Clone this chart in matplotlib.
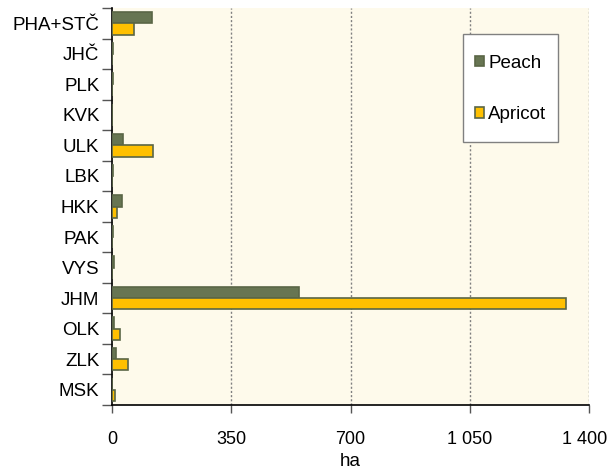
import numpy as np
import matplotlib.pyplot as plt
import matplotlib.transforms as mtransforms
from matplotlib.patches import Rectangle
from matplotlib.ticker import FuncFormatter, FixedLocator

plt.rcParams['font.family'] = ['Liberation Sans', 'DejaVu Sans']

regions = ['PHA+STČ', 'JHČ', 'PLK', 'KVK', 'ULK', 'LBK', 'HKK', 'PAK',
           'VYS', 'JHM', 'OLK', 'ZLK', 'MSK']
peach = [117, 2, 3, 0, 32, 2, 29, 3, 6, 549, 6, 11, 1]
apricot = [65, 1, 1, 0, 120, 0, 15, 1, 0, 1333, 23, 47, 9]
x_ticks = [0, 350, 700, 1050, 1400]

peach_col = '#677552'
apricot_col = '#FFC000'
edge_col = '#5A6646'
fs = 13.5

W, H = 610, 472
fig = plt.figure(figsize=(W / 100, H / 100), dpi=100)
ax = fig.add_axes([112 / W, 1 - 405 / H, 477 / W, 397 / H])
ax.set_facecolor('#FEFAEB')

y = np.arange(len(regions))
h = 0.37
ax.barh(y - h / 2, peach, height=h, color=peach_col, edgecolor=edge_col,
        linewidth=1.2, label='Peach', zorder=3)
ax.barh(y + h / 2, apricot, height=h, color=apricot_col, edgecolor=edge_col,
        linewidth=1.2, label='Apricot', zorder=3)

ax.set_xlim(0, 1400)
ax.set_ylim(len(regions) - 0.5, -0.5)
ax.xaxis.set_major_locator(FixedLocator(x_ticks))
ax.xaxis.set_major_formatter(FuncFormatter(lambda v, p: f'{int(v):,}'.replace(',', ' ')))
for xv in x_ticks[1:]:
    ax.axvline(xv, color='#808080', linestyle=(0, (1.5, 1.5)), linewidth=1, zorder=1)

ax.set_yticks(y)
ax.set_yticklabels(regions)
ax.set_yticks(np.arange(len(regions) + 1) - 0.5, minor=True)
ax.tick_params(axis='y', which='major', length=0, pad=9, labelsize=fs)
ax.tick_params(axis='y', which='minor', length=7, width=1, color='#555555')
ax.tick_params(axis='x', which='major', length=6, width=1, color='#555555',
               labelsize=13, pad=13)
ax.set_xlabel('ha', fontsize=fs, labelpad=3)

# nudge the last x label so it stays inside the figure
last = ax.get_xticklabels()[-1]
last.set_transform(last.get_transform() +
                   mtransforms.ScaledTranslation(-4 / 100, 0, fig.dpi_scale_trans))

for s in ['top', 'right']:
    ax.spines[s].set_visible(False)
ax.spines['left'].set_linewidth(1.2)
ax.spines['bottom'].set_linewidth(1.2)

# legend box
box = Rectangle((463 / W, 1 - 142 / H), 95 / W, 108 / H, transform=fig.transFigure,
                facecolor='white', edgecolor='#808080', linewidth=1, zorder=4)
ax.add_artist(box)
box.set_clip_on(False)
leg = ax.legend(loc='center', bbox_to_anchor=(510.5 / W, 1 - 89 / H),
                bbox_transform=fig.transFigure, borderaxespad=0,
                fontsize=fs, frameon=False, handlelength=0.5, handleheight=0.5,
                handletextpad=0.2, labelspacing=1.85, borderpad=0)
leg.set_zorder(5)

fig.savefig('out.png', dpi=100)
